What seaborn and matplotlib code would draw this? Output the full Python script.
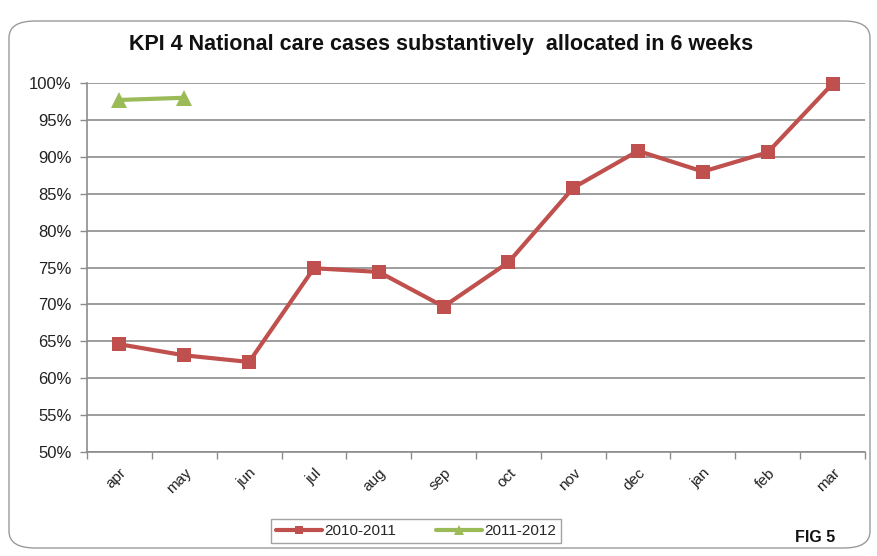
import matplotlib
matplotlib.use("Agg")
import matplotlib.pyplot as plt
from matplotlib.patches import FancyBboxPatch
from matplotlib.ticker import FixedLocator, PercentFormatter
import seaborn as sns
import pandas as pd

months = ["apr", "may", "jun", "jul", "aug", "sep", "oct", "nov", "dec", "jan", "feb", "mar"]
kpi_2010_2011 = [64.6, 63.1, 62.2, 74.9, 74.4, 69.7, 75.7, 85.8, 90.8, 88.0, 90.6, 99.9]
months_2011_2012 = ["apr", "may"]
kpi_2011_2012 = [97.7, 98.0]
y_ticks = [50, 55, 60, 65, 70, 75, 80, 85, 90, 95, 100]

sns.set_theme(style="white")
plt.rcParams["font.family"] = ["Liberation Sans", "DejaVu Sans"]

red = "#C0504D"
green = "#9BBB59"
grid_col = "#8c8c8c"

fig = plt.figure(figsize=(8.77, 5.56), dpi=100)
fig.patch.set_facecolor("white")

# rounded chart border
border = FancyBboxPatch((9 / 877, 8 / 556), 861 / 877, 527 / 556,
                        boxstyle="round,pad=0,rounding_size=0.03",
                        transform=fig.transFigure, facecolor="none",
                        edgecolor="#9a9a9a", linewidth=1.0)
fig.patches.append(border)

ax = fig.add_axes([87 / 877, 1 - 452 / 556, (865 - 87) / 877, (452 - 83) / 556])

df1 = pd.DataFrame({"month": months, "value": kpi_2010_2011})
df2 = pd.DataFrame({"month": months_2011_2012, "value": kpi_2011_2012})

sns.lineplot(data=df1, x="month", y="value", ax=ax, sort=False, color=red,
             linewidth=3, marker="s", markersize=10, markeredgewidth=0,
             label="2010-2011", legend=False, clip_on=False)
sns.lineplot(data=df2, x="month", y="value", ax=ax, sort=False, color=green,
             linewidth=3, marker="^", markersize=11, markeredgewidth=0,
             label="2011-2012", legend=False, clip_on=False)

ax.set_xlim(-0.5, len(months) - 0.5)
ax.set_ylim(50, 100)
ax.yaxis.set_major_locator(FixedLocator(y_ticks))
ax.yaxis.set_major_formatter(PercentFormatter(decimals=0))
ax.grid(axis="y", color=grid_col, linewidth=1.2)
ax.set_axisbelow(True)

ax.set_xticks(range(len(months)))
ax.set_xticklabels(months, rotation=45, ha="right", rotation_mode="anchor",
                   fontsize=11, color="#222222")
ax.xaxis.set_minor_locator(FixedLocator([i - 0.5 for i in range(len(months) + 1)]))
ax.tick_params(axis="x", which="major", length=0, pad=10)
ax.tick_params(axis="x", which="minor", length=5, color=grid_col, width=1, direction="out", bottom=True)
ax.tick_params(axis="y", length=5, color=grid_col, width=1, direction="out", left=True,
               labelsize=12, labelcolor="#222222", pad=6)
ax.set_xlabel("")
ax.set_ylabel("")

for side in ["top", "right"]:
    ax.spines[side].set_visible(False)
for side in ["left", "bottom"]:
    ax.spines[side].set_color(grid_col)
    ax.spines[side].set_linewidth(1.2)

fig.text(0.5 + 3 / 877, 1 - 45 / 556, "KPI 4 National care cases substantively  allocated in 6 weeks",
         ha="center", va="center", fontsize=15.5, fontweight="bold",
         family=["Liberation Sans Narrow", "Liberation Sans", "DejaVu Sans"], color="#111111")

handles, labels = ax.get_legend_handles_labels()
leg = fig.legend(handles, labels, loc="center", bbox_to_anchor=(416 / 877, 1 - 531 / 556),
                 ncol=2, frameon=True, fancybox=False, fontsize=11, handlelength=3.0,
                 columnspacing=2.6, handletextpad=0.15, borderpad=0.35, markerscale=0.6,
                 borderaxespad=0)
leg.get_frame().set_edgecolor("#8c8c8c")
leg.get_frame().set_linewidth(1.0)

fig.text(815 / 877, 1 - 537 / 556, "FIG 5", ha="center", va="center",
         fontsize=11.5, fontweight="bold", color="#111111")

fig.savefig("out.png", dpi=100, facecolor="white")
